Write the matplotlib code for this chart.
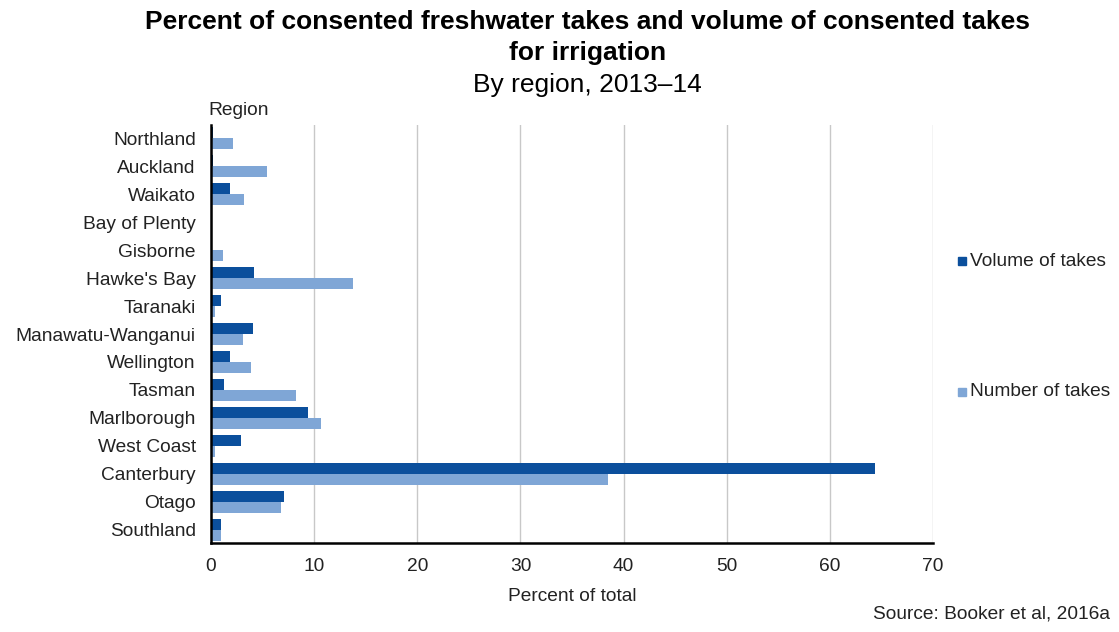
import numpy as np
import matplotlib
matplotlib.use("Agg")
import matplotlib.pyplot as plt

plt.rcParams['font.family'] = ['Liberation Sans', 'DejaVu Sans']

regions = ["Northland", "Auckland", "Waikato", "Bay of Plenty", "Gisborne",
           "Hawke's Bay", "Taranaki", "Manawatu-Wanganui", "Wellington",
           "Tasman", "Marlborough", "West Coast", "Canterbury", "Otago",
           "Southland"]
volume_of_takes = [0.2, 0.2, 1.8, 0.1, 0.0, 4.2, 1.0, 4.1, 1.8, 1.3, 9.4, 2.9, 64.4, 7.1, 1.0]
number_of_takes = [2.1, 5.4, 3.2, 0.1, 1.2, 13.8, 0.4, 3.1, 3.9, 8.2, 10.7, 0.4, 38.5, 6.8, 1.0]
x_ticks = [0, 10, 20, 30, 40, 50, 60, 70]

dark = "#0b4f9c"
light = "#7fa6d6"
txt = "#222222"
fs = 13.8

fig = plt.figure(figsize=(11.19, 6.32), dpi=100)
ax = fig.add_axes([0.1886, 0.1408, 0.6452, 0.6614])

y = np.arange(len(regions))
h = 0.4
ax.barh(y - h / 2, volume_of_takes, height=h, color=dark, label="Volume of takes")
ax.barh(y + h / 2, number_of_takes, height=h, color=light, label="Number of takes")

ax.set_ylim(14.47, -0.47)
ax.set_xlim(0, 70)
ax.set_xticks(x_ticks)
ax.set_yticks(y)
ax.set_yticklabels(regions)
ax.tick_params(axis='both', length=0, labelsize=fs, colors=txt)
ax.tick_params(axis='x', pad=11)
ax.tick_params(axis='y', pad=11)

ax.grid(axis='x', color="#c8c8c8", linewidth=1)
ax.set_axisbelow(True)
for s in ["top", "right"]:
    ax.spines[s].set_visible(False)
ax.spines["left"].set_linewidth(1.8)
ax.spines["bottom"].set_linewidth(1.8)

ax.set_xlabel("Percent of total", fontsize=fs, labelpad=9, color=txt)

# title block
fig.text(0.525, 0.965, "Percent of consented freshwater takes and volume of consented takes",
         ha="center", va="center", fontsize=19, fontweight="bold")
fig.text(0.525, 0.916, "for irrigation", ha="center", va="center", fontsize=19, fontweight="bold")
fig.text(0.525, 0.866, "By region, 2013\u201314", ha="center", va="center", fontsize=19)
fig.text(0.186, 0.825, "Region", ha="left", va="center", fontsize=fs, color=txt)

# legend entries placed far apart on the right
for label, color, ypos in [("Volume of takes", dark, 0.587), ("Number of takes", light, 0.380)]:
    fig.patches.append(plt.Rectangle((0.8565, ypos - 0.0065), 0.0072, 0.0128, color=color,
                                     transform=fig.transFigure, figure=fig))
    fig.text(0.867, ypos, label, ha="left", va="center", fontsize=fs, color=txt)

fig.text(0.992, 0.015, "Source: Booker et al, 2016a", ha="right", va="bottom", fontsize=fs,
         color=txt)

fig.savefig("out.png", dpi=100)
